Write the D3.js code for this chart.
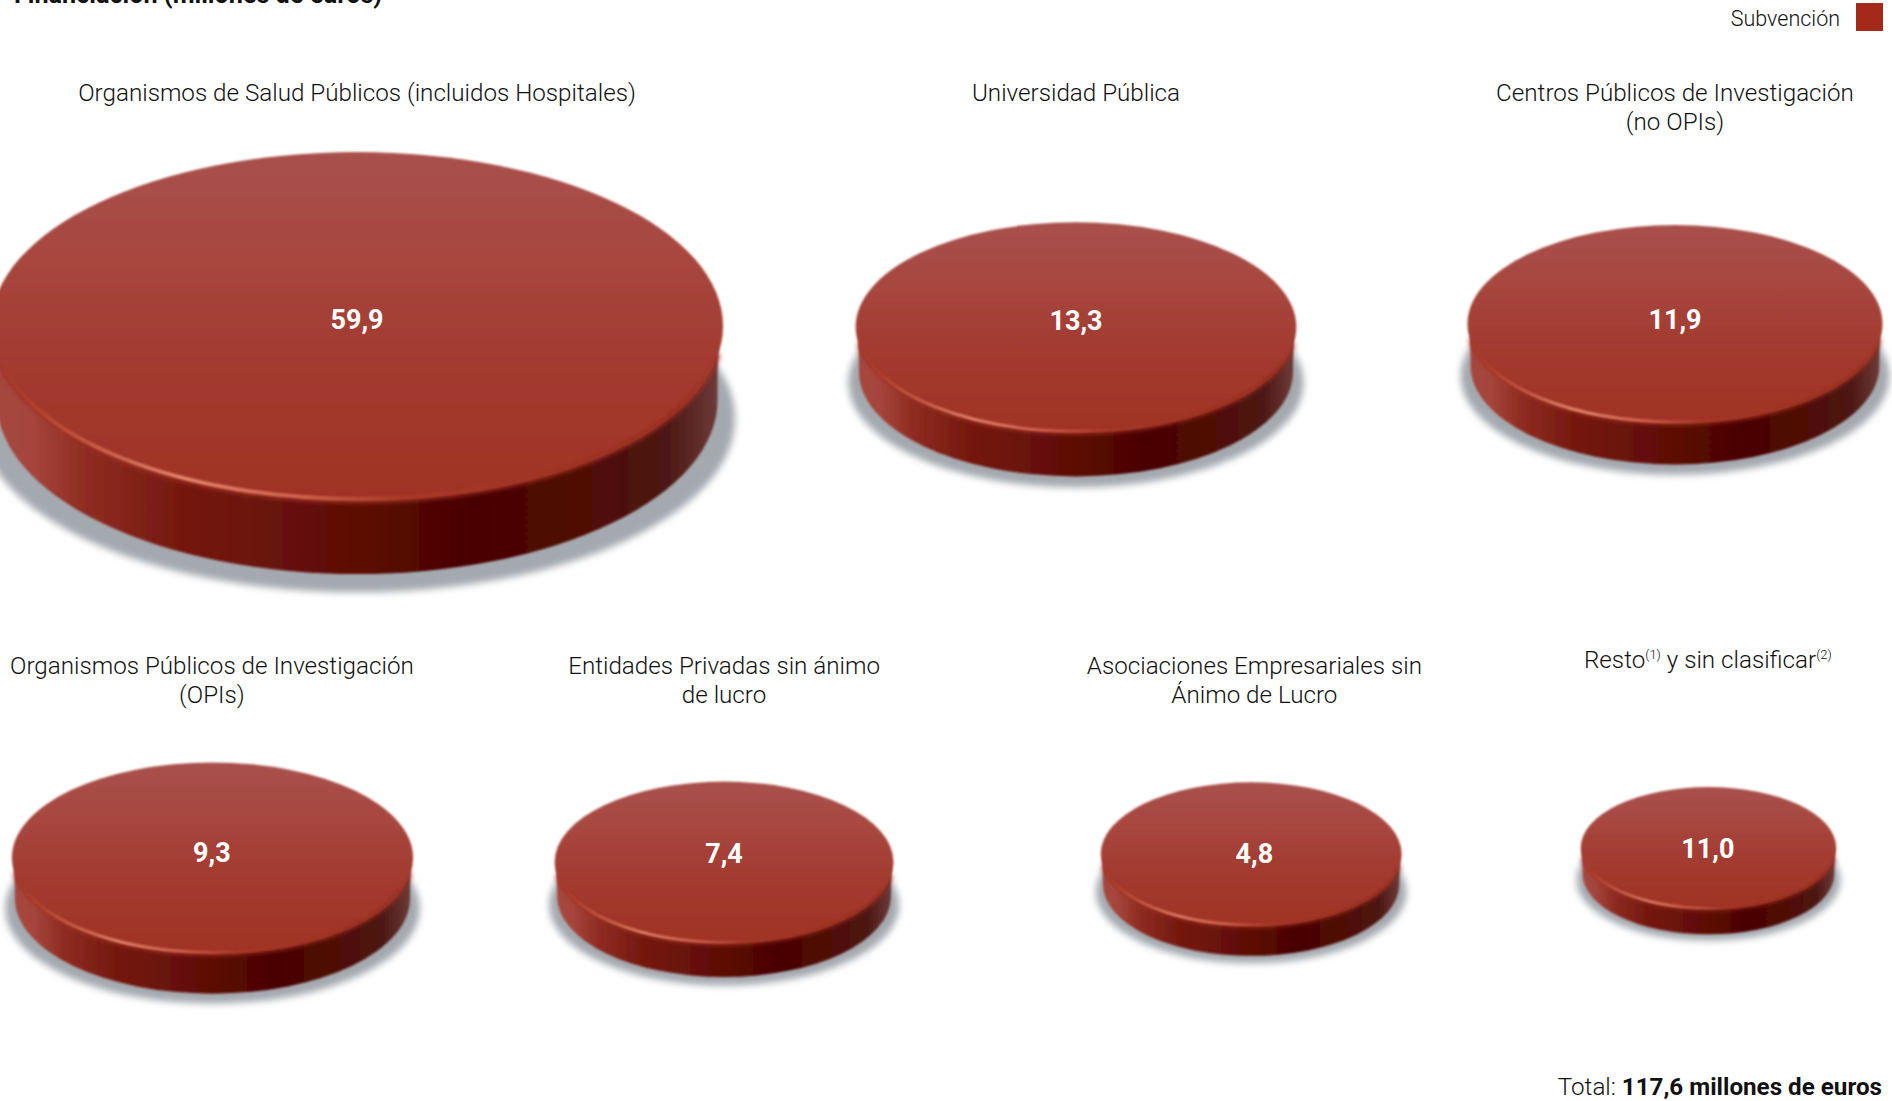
<!DOCTYPE html>
<html><head><meta charset="utf-8">
<script src="https://cdn.jsdelivr.net/npm/d3@7"></script>
<style>html,body{margin:0;padding:0;background:#fff;overflow:hidden}svg{display:block}
text{font-family:Roboto,"Liberation Sans",sans-serif}</style></head>
<body><div id="chart"></div>
<script>
// --- data ---
const chartTitle = "Financiación (millones de euros)";
const legendLabel = "Subvención";
const totalLabel = "Total: ";
const totalValue = "117,6 millones de euros";
const categories = [
  ["Organismos de Salud Públicos (incluidos Hospitales)"],
  ["Universidad Pública"],
  ["Centros Públicos de Investigación","(no OPIs)"],
  ["Organismos Públicos de Investigación","(OPIs)"],
  ["Entidades Privadas sin ánimo","de lucro"],
  ["Asociaciones Empresariales sin","Ánimo de Lucro"],
  ["Resto|1| y sin clasificar|2|"]
];
const values = [59.9, 13.3, 11.9, 9.3, 7.4, 4.8, 11.0];
// relative disc size as drawn (the discs are not to value scale in the source)
const discSize = [100, 60.2, 56.7, 54.8, 46.3, 41.1, 34.9];

// --- layout, separate from data (percent of page) ---
const W = 1892, H = 1101;
const cxPct  = [18.87, 56.87, 88.53, 11.23, 38.27, 66.13, 90.3];
const cyPct  = [29.6, 29.7, 29.4, 77.9, 78.3, 77.55, 77.0];
const lblPct = [9.2, 9.2, 9.2, 61.25, 61.2, 61.2, 60.65];
const lblCxPct = [18.87, 56.87, 88.53, 11.2, 38.27, 66.3, 90.27];
const valPct = [29.85, 29.95, 29.9, 78.3, 78.4, 78.4, 77.9];
const x = d3.scaleLinear().domain([0,100]).range([0,W]);
const y = d3.scaleLinear().domain([0,100]).range([0,H]);
const rScale = d3.scaleLinear().domain([0,100]).range([0,366]);
const fmt = v => d3.format(".1f")(v).replace(".", ",");
const RY = 0.475, DEPTH = 0.203;

const svg = d3.select("#chart").append("svg").attr("width",W).attr("height",H).attr("viewBox",`0 0 ${W} ${H}`);
const defs = svg.append("defs");
function grad(id, horiz, stops){
  const g = defs.append("linearGradient").attr("id",id)
    .attr("x1",0).attr("y1",0).attr("x2",horiz?1:0).attr("y2",horiz?0:1);
  stops.forEach(s=>g.append("stop").attr("offset",s[0]).attr("stop-color",s[1]).attr("stop-opacity",s[2]===undefined?1:s[2]));
}
grad("topG",false,[[0,"#a9514d"],[0.3,"#a7473f"],[0.6,"#a33b30"],[1,"#a03325"]]);
grad("sideG",true,[[0,"#a5473e"],[0.05,"#a5453c"],[0.12,"#8f2d22"],[0.25,"#76190f"],[0.45,"#620f07"],[0.66,"#4a0200"],[0.82,"#500c06"],[0.93,"#4d1713"],[1,"#6d3a38"]]);
grad("bevelG",true,[[0,"#a83c2e",0],[0.06,"#b5442f",1],[0.26,"#e68a72",1],[0.42,"#d2654e",1],[0.56,"#a83a28",1],[0.94,"#9a2f20",1],[1,"#9a2f20",0]]);
defs.append("filter").attr("id","blurM").attr("x","-20%").attr("y","-30%").attr("width","140%").attr("height","160%")
    .append("feGaussianBlur").attr("stdDeviation",3.6);
defs.append("filter").attr("id","soft").attr("x","-5%").attr("y","-5%").attr("width","110%").attr("height","110%")
    .append("feGaussianBlur").attr("stdDeviation",0.8);
defs.append("filter").attr("id","bevelB").attr("x","-5%").attr("y","-20%").attr("width","110%").attr("height","140%")
    .append("feGaussianBlur").attr("stdDeviation",1.3);
defs.append("filter").attr("id","bevelW").attr("x","-5%").attr("y","-20%").attr("width","110%").attr("height","140%")
    .append("feGaussianBlur").attr("stdDeviation",2.4);

const rows = values.map((v,i)=>({v,i,r:rScale(discSize[i])}));
const discs = svg.selectAll("g.disc").data(rows).join("g").attr("class","disc")
  .attr("transform",d=>`translate(${x(cxPct[d.i])},${y(cyPct[d.i])})`);

// shadow
discs.append("ellipse").attr("rx",d=>d.r*1.033).attr("ry",d=>d.r*RY)
  .attr("cy",d=>d.r*(DEPTH+0.05)).attr("fill","#a4a9af").attr("filter","url(#blurM)");
// side wall, slightly inset below the rounded rim
const sidePath = d=>{const a=d.r*0.985,b=d.r*RY,h=d.r*DEPTH;
  return `M${-a},0 L${-a},${h} A${a},${b} 0 0 0 ${a},${h} L${a},0 Z`;};
discs.append("path").attr("d",sidePath).attr("fill","url(#sideG)").attr("filter","url(#soft)");
// rounded shoulder of the rim: arc of the lower edge, stopping short of the extreme ends
const rimPath = k => d=>{const a=d.r*k,b=d.r*RY*k,t=0.16,cx=a*Math.cos(t),sy=b*Math.sin(t);
  return `M${-cx},${sy} A${a},${b} 0 0 0 ${cx},${sy}`;};
discs.append("path").attr("d",rimPath(0.995)).attr("fill","none").attr("stroke-linecap","butt")
  .attr("stroke","#a03325").attr("stroke-width",d=>2+d.r*0.016).attr("filter","url(#bevelW)");
// top face
discs.append("ellipse").attr("rx",d=>d.r).attr("ry",d=>d.r*RY)
  .attr("fill","url(#topG)").attr("filter","url(#soft)");
// bevel highlight along the front rim
discs.append("path").attr("d",rimPath(0.995))
  .attr("fill","none").attr("stroke","url(#bevelG)")
  .attr("stroke-width",d=>1.5+d.r*0.006).attr("filter","url(#bevelB)");

// value labels
svg.selectAll("text.val").data(rows).join("text").attr("class","val")
  .attr("x",d=>x(lblCxPct[d.i])).attr("y",d=>y(valPct[d.i])).attr("text-anchor","middle")
  .attr("fill","#fff").attr("font-size",27).attr("font-weight",700)
  .text(d=>fmt(d.v));

// category labels
const lab = svg.selectAll("text.cat").data(categories).join("text").attr("class","cat")
  .attr("text-anchor","middle").attr("font-size",24.2).attr("font-weight",300).attr("fill","#111")
  .attr("y",(d,i)=>y(lblPct[i]));
lab.each(function(lines,i){
  const t=d3.select(this);
  lines.forEach((line,j)=>{
    const parts=line.split("|");
    if(parts.length===1){
      t.append("tspan").attr("x",x(lblCxPct[i])).attr("dy",j?29:0).text(line);
    } else {
      parts.forEach((p,k)=>{
        const s=t.append("tspan").text(k%2?`(${p})`:p);
        if(k===0) s.attr("x",x(lblCxPct[i]));
        if(k%2){ s.attr("font-size",13).attr("dy",-9); }
        else if(k>0){ s.attr("dy",9); }
      });
    }
  });
});

// title, legend, total
svg.append("text").attr("x",14).attr("y",3).attr("font-size",25.2).attr("font-weight",700).attr("fill","#111").text(chartTitle);
svg.append("text").attr("x",1840).attr("y",26).attr("text-anchor","end").attr("font-size",21.5).attr("font-weight",300).attr("fill","#111").text(legendLabel);
svg.append("rect").attr("x",1856).attr("y",3).attr("width",27).attr("height",28).attr("fill","#a4291b");
const tot=svg.append("text").attr("x",1882).attr("y",1095).attr("text-anchor","end").attr("font-size",24.2).attr("fill","#111");
tot.append("tspan").attr("font-weight",300).text(totalLabel);
tot.append("tspan").attr("font-weight",700).text(totalValue);
</script></body></html>
